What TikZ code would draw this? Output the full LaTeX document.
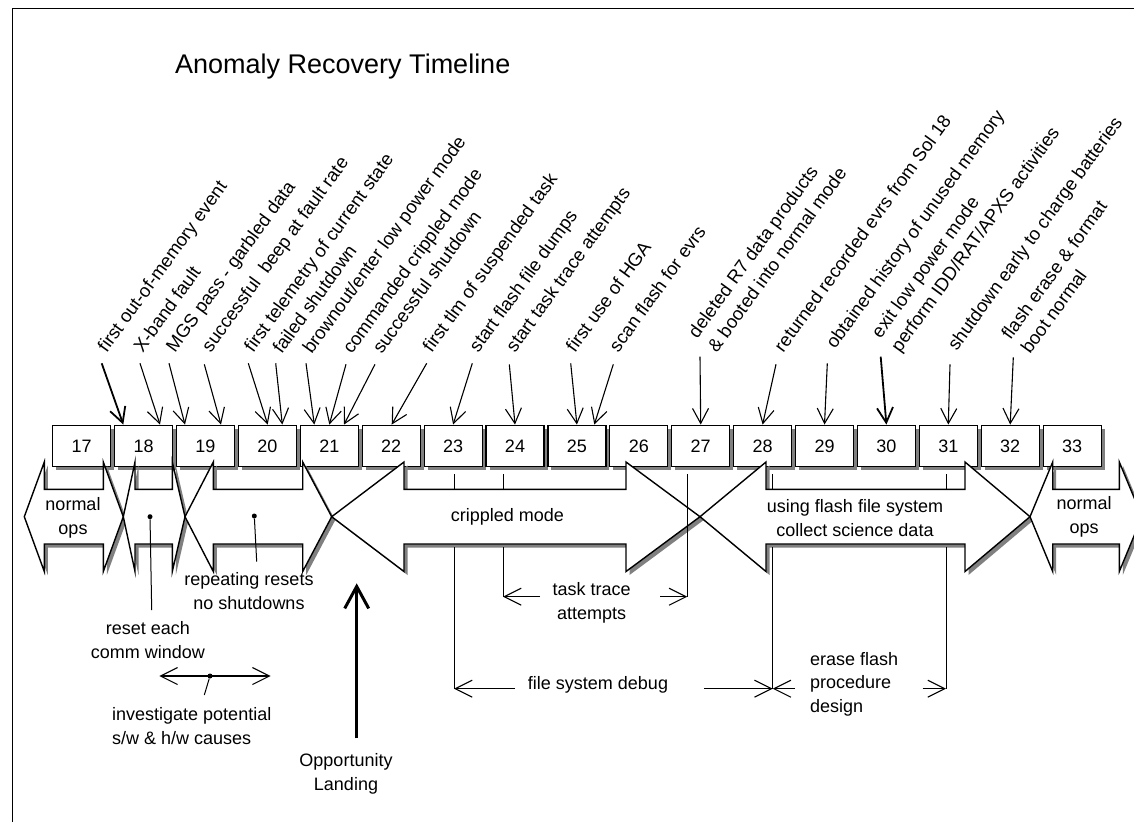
\documentclass[tikz,border=0pt]{standalone}
\usepackage{fontspec}
\setmainfont{Liberation Sans}
\usetikzlibrary{arrows.meta,shadows}
\tikzset{
    day/.style =    {rectangle,
                    fill=white,
                    draw=black,
                    text=black,
                    line width=1.2pt,
                    minimum width=58pt,
                    minimum height=41.7pt,
                    inner sep=0pt,
                    font=\fontsize{18}{22}\selectfont,
                    drop shadow={shadow xshift=3.5pt,shadow yshift=-3.5pt,fill=gray,opacity=1}},
    event/.style =  {rotate=54,
                    anchor=base west,
                    inner sep=0pt,
                    align=left,
                    font=\fontsize{18.5}{24}\selectfont},
    note/.style =   {inner sep=0pt,
                    align=center,
                    font=\fontsize{18}{23.5}\selectfont},
    band/.style =   {fill=white,
                    draw=black,
                    line width=1.4pt},
    dot/.style =    {circle,
                    fill=black,
                    inner sep=0pt,
                    minimum size=5pt},
    evt/.style =    {->},
    span/.style =   {->, line width=1.1pt, >={Straight Barb[length=17pt,width=17pt]}},
    landing/.style = {-{Straight Barb[length=22pt,width=24pt]}, line width=3pt},
    >={Straight Barb[length=15pt,width=16pt]}}
% double headed band: left tip, left base, right base, right tip
\newcommand{\opsband}[4]{%
    \fill[gray,xshift=3.5pt,yshift=-3.5pt] (#1,516.7) -- (#2,462) -- (#2,489.3) -- (#3,489.3) -- (#3,462) -- (#4,516.7)
        -- (#3,571.5) -- (#3,544) -- (#2,544) -- (#2,571.5) -- cycle;
    \path[band] (#1,516.7) -- (#2,462) -- (#2,489.3) -- (#3,489.3) -- (#3,462) -- (#4,516.7)
        -- (#3,571.5) -- (#3,544) -- (#2,544) -- (#2,571.5) -- cycle;}

\begin{document}
\begin{tikzpicture}[x=1pt,y=-1pt]
    \useasboundingbox (0,0) rectangle (1134,822);
    \clip (0,0) rectangle (1134,822);
    \draw[line width=1pt] (12.5,822) -- (12.5,8.5) -- (1134,8.5);
    \node[anchor=base west,inner sep=0pt,font=\fontsize{27}{32}\selectfont] (title) at (175,73) {Anomaly Recovery Timeline};

    % sols
    \foreach \d [count=\i from 0] in {17,...,33}
        \node[day] (b\d) at (81.7+61.9*\i,446) {\d};

    % bands
    \foreach \tl/\bl/\br/\tr in {24.3/44.3/103.3/123.3, 123.3/135/172.3/185, 185/213.3/302.7/331.7,
                                 331.7/404/626/700, 700/766/965/1030, 1030/1052.7/1119.3/1142}
        \opsband{\tl}{\bl}{\br}{\tr};

    \node[note] (ops1)  at (73,518)    {normal\\ops};
    \node[note] (crip)  at (507.5,517) {crippled mode};
    \node[note] (flash) at (855,518)   {using flash file system\\collect science data};
    \node[note] (ops2)  at (1084,517)  {normal\\ops};

    % events
    \node[event] (e1)  at (106.7,353.3) {first out-of-memory event};
    \node[event] (e2)  at (142.7,353.3) {X-band fault};
    \node[event] (e3)  at (175,353.3)   {MGS pass - garbled data};
    \node[event] (e4)  at (210.7,353.3) {successful\ \ beep at fault rate};
    \node[event] (e5)  at (253.3,353.3) {first telemetry of current state};
    \node[event] (e6)  at (281.7,355)   {failed shutdown};
    \node[event] (e7)  at (311.7,355)   {brownout/enter low power mode};
    \node[event] (e8)  at (351.7,355)   {commanded crippled mode};
    \node[event] (e9)  at (381.7,355)   {successful shutdown};
    \node[event] (e10) at (431.7,353.3) {first tlm of suspended task};
    \node[event] (e11) at (478.3,353.3) {start flash file dumps};
    \node[event] (e12) at (515,353.3)   {start task trace attempts};
    \node[event] (e13) at (575,353.3)   {first use of HGA};
    \node[event] (e14) at (618.3,353.3) {scan flash for evrs};
    \node[event] (e15) at (716.7,353.3) {deleted R7 data products\\\& booted into normal mode};
    \node[event] (e16) at (783.3,353.3) {returned recorded evrs from Sol 18};
    \node[event] (e17) at (835,350)     {obtained history of unused memory};
    \node[event] (e18) at (900,353.3)   {exit low power mode\\perform IDD/RAT/APXS activities};
    \node[event] (e19) at (956.7,351.7) {shutdown early to charge batteries};
    \node[event] (e20) at (1030,355)    {flash erase \& format\\boot normal};

    \foreach \n/\x/\y/\b/\dx/\w in {1/101.7/363.3/18/-20.3/1.8, 2/140/363.3/18/16.4/1.1, 3/169/363.3/19/-20.5/1.1,
                                 4/204.3/364.3/19/15.5/1.1, 5/248.3/363.3/20/0.3/1.1, 6/275.7/363.3/20/14.9/1.1,
                                 7/306/363.3/21/-15/1.1, 8/346/364.3/21/0/1.1, 9/375/364.3/21/14.7/1.1,
                                 10/426.7/363.3/22/0.5/1.1, 11/472.3/363.3/23/0/1.1, 12/509.3/364.3/24/0/1.1,
                                 13/570.7/363.3/25/0/1.1, 14/613.3/364.3/25/17.4/1.1, 15/700/356.7/27/0/1.1,
                                 16/776/364.3/28/0/1.1, 17/827.3/363.3/29/0/1.1, 18/880.7/356.7/30/0/1.8,
                                 19/950/364.3/31/0/1.1, 20/1013.3/357.3/32/0/1.1}
    {
        \coordinate (s\n) at (\x,\y);
        \draw[evt,line width=\w pt] (s\n) -- ([xshift=\dx pt]b\b.north);
    }

    % spans below the bands
    \coordinate (fsL) at (454,688.7);
    \coordinate (fsR) at (772.7,688.7);
    \coordinate (efR) at (946,688.7);
    \coordinate (ttL) at (503,596.7);
    \coordinate (ttR) at (687.3,596.7);
    \foreach \x in {454,503,772.7,946}
        \draw[line width=1pt] (\x,474) -- (\x,489.3);
    \draw[line width=1pt] (454,547) -- (fsL);
    \draw[line width=1pt] (503,547) -- (ttL);
    \draw[line width=1pt] (687.3,474) -- (ttR);
    \draw[line width=1pt] (772.7,547) -- (fsR);
    \draw[line width=1pt] (946,547) -- (efR);

    \node[note] (trace) at (591.7,603) {task trace\\attempts};
    \draw[span] (540,596.7) -- (ttL);
    \draw[span] (660,596.7) -- (ttR);

    \node[note] (debug) at (598,685) {file system debug};
    \draw[span] (515,688.7) -- (fsL);
    \draw[span] (704,688.7) -- (fsR);

    \node[note,anchor=west,align=left] (erase) at (810,684) {erase flash\\procedure\\design};
    \draw[span] (795,688.7) -- (fsR);
    \draw[span] (922.5,688.7) -- (efR);

    % left hand notes
    \node[dot] (d1) at (150,516.7) {};
    \node[dot] (d2) at (254.3,516) {};
    \node[note] (reset)  at (148,640) {reset each\\comm window};
    \node[note] (repeat) at (249,591) {repeating resets\\no shutdowns};
    \coordinate (r1) at (151.7,610);
    \coordinate (r2) at (256.7,561.7);
    \draw[line width=1pt] (d1) -- (r1);
    \draw[line width=1pt] (d2) -- (r2);

    \coordinate (invL) at (159.3,676);
    \coordinate (invR) at (270.7,676);
    \node[dot] (d3) at (210,676) {};
    \draw[span,<->] (invL) -- (invR);
    \node[note,anchor=west,align=left] (invest) at (112,726) {investigate potential\\s/w \& h/w causes};
    \coordinate (r3) at (204.3,695);
    \draw[line width=1pt] (d3) -- (r3);

    % landing
    \coordinate (land) at (356.7,583.3);
    \coordinate (foot) at (356.7,738.3);
    \node[note] (opp) at (346,774) {Opportunity\\Landing};
    \draw[landing] (foot) -- (land);
\end{tikzpicture}
\end{document}
